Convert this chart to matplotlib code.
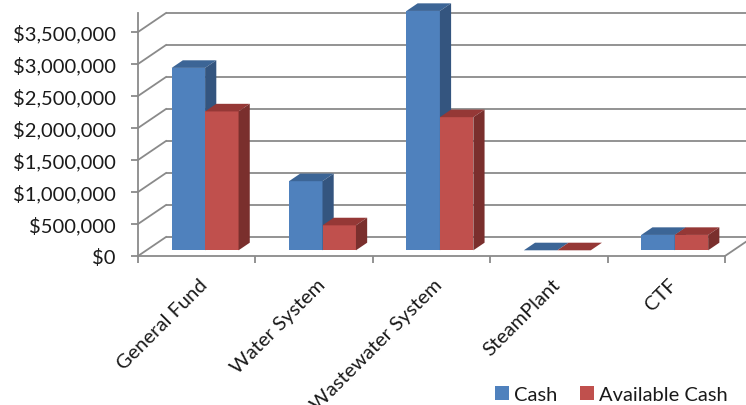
import matplotlib
matplotlib.use("Agg")
import matplotlib.pyplot as plt
from matplotlib.patches import Polygon
from matplotlib.ticker import FuncFormatter
from matplotlib.transforms import ScaledTranslation

categories = ["General Fund", "Water System", "Wastewater System", "SteamPlant", "CTF"]
cash = [2850000, 1080000, 3740000, 0, 240000]
available_cash = [2170000, 390000, 2080000, 0, 240000]
series_names = ["Cash", "Available Cash"]
yticks = [0, 500000, 1000000, 1500000, 2000000, 2500000, 3000000, 3500000]

plt.rcParams['font.family'] = ['Lato', 'DejaVu Sans']

W, H = 746, 406
fig = plt.figure(figsize=(W / 100, H / 100), dpi=100)
fig.patch.set_facecolor('white')

# axes geometry in pixels
px_left, px_right = 138, 746
py_floor, py_top = 257, 14
px_per_cat = 117.4
px_per_dollar = 32 / 500000

ax = fig.add_axes([px_left / W, (H - py_floor) / H,
                   (px_right - px_left) / W, (py_floor - py_top) / H])
xmax = -0.5 + (px_right - px_left) / px_per_cat
ymax = (py_floor - py_top) / px_per_dollar
ax.set_xlim(-0.5, xmax)
ax.set_ylim(0, ymax)

# depth offset (data units)
DX = 28 / px_per_cat
DY = 19 / px_per_dollar

grid_c = '#8a8a8a'
glw = 1.3
txt_c = '#1a1a1a'
fs = 14.5

# walls / gridlines
for v in yticks:
    ax.plot([-0.5 + DX, xmax + 1], [v + DY, v + DY], color=grid_c, lw=glw,
            clip_on=False, zorder=1, solid_capstyle='butt')
    ax.plot([-0.5, -0.5 + DX], [v, v + DY], color=grid_c, lw=glw,
            clip_on=False, zorder=1)
n = len(categories)
ax.plot([n - 0.5, n - 0.5 + DX], [0, DY], color=grid_c, lw=glw,
        clip_on=False, zorder=1)

# bars
w = 0.285
f0, f1 = 0.30, 0.70
colors = [('#4f81bd', '#3c6596', '#34557f'), ('#c0504d', '#953836', '#7a2f2d')]
series = [cash, available_cash]
for i in range(n):
    for s, vals in enumerate(series):
        v = vals[i]
        x0 = i - w + s * w
        x1 = x0 + w
        ox0, oy0 = f0 * DX, f0 * DY
        ox1, oy1 = f1 * DX, f1 * DY
        front, top, side = colors[s]
        z = 3 + i * 2 + s * 0.5
        ax.add_patch(Polygon([(x0 + ox0, oy0), (x1 + ox0, oy0), (x1 + ox0, v + oy0), (x0 + ox0, v + oy0)],
                             closed=True, fc=front, ec='none', zorder=z, clip_on=False))
        ax.add_patch(Polygon([(x0 + ox0, v + oy0), (x1 + ox0, v + oy0), (x1 + ox1, v + oy1), (x0 + ox1, v + oy1)],
                             closed=True, fc=top, ec='none', zorder=z, clip_on=False))
        ax.add_patch(Polygon([(x1 + ox0, oy0), (x1 + ox1, oy1), (x1 + ox1, v + oy1), (x1 + ox0, v + oy0)],
                             closed=True, fc=side, ec='none', zorder=z, clip_on=False))

# spines
for sp in ['top', 'right']:
    ax.spines[sp].set_visible(False)
ax.spines['left'].set_color(grid_c)
ax.spines['left'].set_linewidth(glw)
ax.spines['bottom'].set_color(grid_c)
ax.spines['bottom'].set_linewidth(glw)
ax.spines['bottom'].set_bounds(-0.5, n - 0.5)
ax.set_facecolor('none')

ax.set_yticks(yticks)
ax.yaxis.set_major_formatter(FuncFormatter(lambda v, p: "${:,.0f}".format(v)))
ax.tick_params(axis='y', direction='out', length=5, width=glw, color=grid_c,
               labelsize=fs, labelcolor=txt_c, pad=11)

ax.set_xticks(range(n))
ax.set_xticklabels(categories, rotation=45, ha='right', rotation_mode='anchor',
                   fontsize=fs, color=txt_c)
ax.set_xticks([i - 0.5 for i in range(n + 1)], minor=True)
ax.tick_params(axis='x', which='major', length=0, pad=14)
ax.tick_params(axis='x', which='minor', direction='out', length=5, width=glw, color=grid_c)
for lab in ax.get_xticklabels():
    lab.set_transform(lab.get_transform() + ScaledTranslation(2 / 100, 0, fig.dpi_scale_trans))

# legend
handles = [Polygon([[0, 0]], fc=colors[0][0], ec='none'),
           Polygon([[0, 0]], fc=colors[1][0], ec='none')]
leg = fig.legend(handles, series_names, loc='lower right', bbox_to_anchor=(1.0, -0.04),
                 ncol=2, frameon=False, fontsize=fs, handlelength=0.7, handleheight=0.7,
                 handletextpad=0.25, columnspacing=1.1, labelcolor=txt_c)

fig.savefig('out.png', dpi=100, facecolor='white')
